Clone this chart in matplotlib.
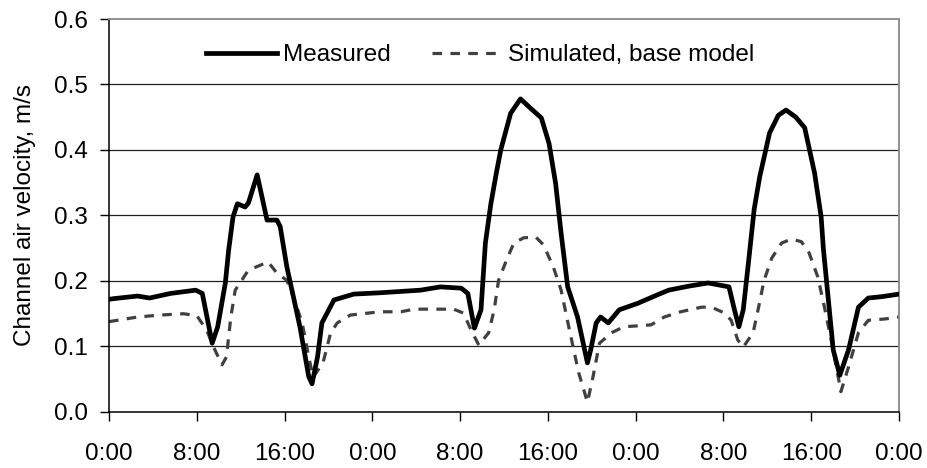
#!/usr/bin/env python3
# plot.py
# measured vs simulated channel air velocity over three days

import matplotlib
matplotlib.use("Agg")
import matplotlib.pyplot as plt

plt.rcParams['font.family'] = ['Liberation Sans', 'DejaVu Sans']

# hours since the first midnight, values in m/s
meas_h = [0.0, 0.4, 2.6, 3.7, 5.6, 7.9, 8.5, 9.4, 9.9, 10.6, 10.9, 11.3, 11.7, 12.4,
          12.7, 13.5, 14.4, 15.3, 15.6, 16.2, 16.8, 17.4, 18.2, 18.5, 19.0, 19.4,
          20.5, 22.3, 24.7, 28.4, 30.2, 32.1, 32.7, 33.3, 33.9, 34.3, 34.8, 35.3,
          35.7, 36.6, 37.5, 38.4, 39.4, 40.1, 40.7, 41.2, 41.8, 42.7, 43.6, 43.9,
          44.4, 44.8, 45.5, 46.5, 48.2, 50.0, 51.0, 52.8, 54.6, 56.5, 57.0, 57.4,
          57.8, 58.3, 58.8, 59.3, 60.2, 61.0, 61.7, 62.6, 63.4, 64.3, 64.9, 65.1,
          66.0, 66.6, 67.4, 68.3, 69.2, 70.4, 72.0]
meas_v = [0.172, 0.173, 0.177, 0.174, 0.181, 0.186, 0.181, 0.105, 0.130, 0.197, 0.247,
          0.298, 0.318, 0.313, 0.319, 0.362, 0.293, 0.293, 0.283, 0.222, 0.176, 0.130,
          0.054, 0.043, 0.084, 0.136, 0.171, 0.180, 0.182, 0.186, 0.191, 0.189, 0.181,
          0.128, 0.156, 0.258, 0.318, 0.365, 0.400, 0.456, 0.478, 0.464, 0.449, 0.410,
          0.349, 0.273, 0.191, 0.145, 0.075, 0.095, 0.136, 0.145, 0.136, 0.156, 0.166,
          0.179, 0.186, 0.192, 0.197, 0.191, 0.156, 0.130, 0.156, 0.232, 0.310, 0.359,
          0.426, 0.453, 0.461, 0.450, 0.434, 0.365, 0.298, 0.250, 0.095, 0.056, 0.095,
          0.160, 0.174, 0.176, 0.180]

sim_h = [0.0, 0.4, 2.6, 4.7, 6.8, 8.0, 8.9, 9.5, 10.3, 10.7, 11.1, 11.5, 12.6, 13.2,
         14.5, 15.3, 16.2, 16.8, 17.6, 18.2, 18.6, 19.5, 20.2, 20.8, 22.0, 24.7, 26.6,
         27.8, 31.4, 32.3, 33.0, 33.7, 34.6, 35.1, 35.5, 36.3, 36.9, 37.8, 38.9, 39.6,
         40.5, 41.2, 41.9, 42.8, 43.6, 44.1, 44.7, 45.8, 46.9, 49.4, 50.6, 52.1, 54.0,
         54.9, 56.1, 56.7, 57.3, 57.8, 58.7, 59.2, 59.7, 60.4, 61.3, 62.2, 63.1, 63.8,
         64.6, 65.2, 66.0, 66.7, 67.4, 68.3, 69.2, 70.7, 72.0]
sim_v = [0.138, 0.139, 0.145, 0.148, 0.150, 0.147, 0.125, 0.100, 0.072, 0.084, 0.145,
         0.186, 0.214, 0.220, 0.229, 0.212, 0.201, 0.176, 0.136, 0.084, 0.053, 0.075,
         0.121, 0.136, 0.148, 0.153, 0.153, 0.157, 0.157, 0.151, 0.125, 0.102, 0.121,
         0.156, 0.201, 0.235, 0.258, 0.266, 0.267, 0.255, 0.221, 0.186, 0.130, 0.060,
         0.015, 0.053, 0.105, 0.121, 0.130, 0.133, 0.145, 0.153, 0.160, 0.160, 0.151,
         0.140, 0.110, 0.099, 0.121, 0.160, 0.201, 0.235, 0.258, 0.264, 0.260, 0.243,
         0.206, 0.160, 0.095, 0.031, 0.069, 0.121, 0.140, 0.142, 0.145]

xtick_pos = [0, 8, 16, 24, 32, 40, 48, 56, 64, 72]
xtick_lbl = ["0:00", "8:00", "16:00", "0:00", "8:00", "16:00", "0:00", "8:00", "16:00", "0:00"]
ytick_pos = [0.0, 0.1, 0.2, 0.3, 0.4, 0.5, 0.6]


def main():
    fig = plt.figure(figsize=(9.28, 4.68), dpi=100)
    ax = fig.add_axes([0.1175, 0.1197, 0.8513, 0.8397])

    # horizontal gridlines only
    for y in ytick_pos[1:-1]:
        ax.axhline(y, color="#202020", lw=0.9, zorder=1)

    ax.plot(meas_h, meas_v, color="black", lw=3.4, label="Measured",
            solid_joinstyle="round", zorder=3)
    ax.plot(sim_h, sim_v, color="#404040", lw=2.3, dashes=(3, 2.6),
            label="Simulated, base model", zorder=2)

    ax.set_xlim(0, 72)
    ax.set_ylim(0, 0.6)
    ax.set_xticks(xtick_pos)
    ax.set_xticklabels(xtick_lbl)
    ax.set_yticks(ytick_pos)
    ax.set_yticklabels(["%.1f" % y for y in ytick_pos])
    ax.tick_params(direction="out", length=6.5, width=1, labelsize=17.5)
    ax.tick_params(axis="x", pad=16)
    ax.tick_params(axis="y", pad=9)

    ax.spines['left'].set_linewidth(1.1)
    ax.spines['bottom'].set_linewidth(1.1)
    ax.spines['top'].set_color("#909090")
    ax.spines['right'].set_color("#909090")
    ax.spines['top'].set_linewidth(1.4)
    ax.spines['right'].set_linewidth(1.4)

    ax.set_ylabel("Channel air velocity, m/s", fontsize=17.5)
    ax.yaxis.set_label_coords(-0.093, 0.5)

    ax.legend(loc="center", bbox_to_anchor=(0.47, 0.908), ncol=2, frameon=False,
              fontsize=17.5, handlelength=2.9, handletextpad=0.25, columnspacing=1.7)

    fig.savefig("out.png", dpi=100)


if __name__ == "__main__":
    main()
